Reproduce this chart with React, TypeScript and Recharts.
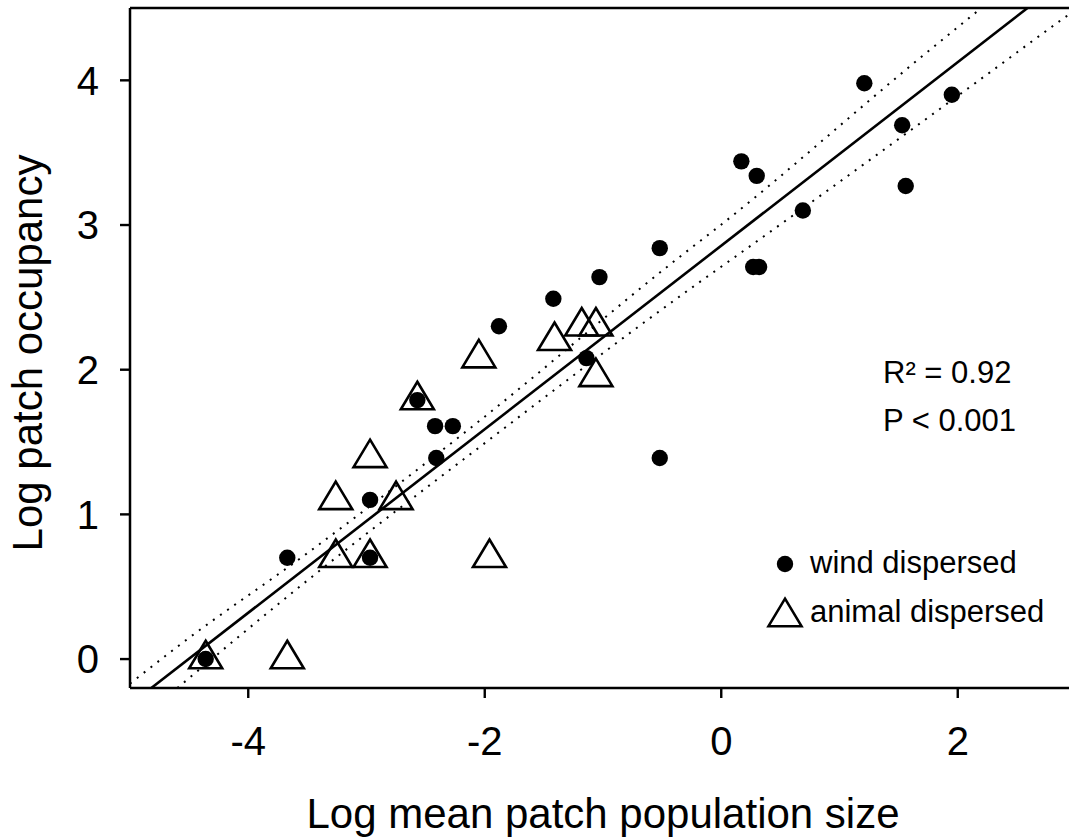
import React from 'react';
import { ScatterChart, Scatter, XAxis, YAxis, ReferenceLine } from 'recharts';

const FONT = '"Liberation Sans", Arial, Helvetica, sans-serif';

// Wind dispersed species (filled circles)
const windX = [-4.36, -3.67, -2.97, -2.97, -2.57, -2.42, -2.27, -2.41, -1.88, -1.42, -1.14, -1.03, -0.52, -0.52, 0.17, 0.30, 0.27, 0.32, 0.69, 1.21, 1.53, 1.56, 1.95];
const windY = [0.00, 0.70, 0.70, 1.10, 1.79, 1.61, 1.61, 1.39, 2.30, 2.49, 2.08, 2.64, 2.84, 1.39, 3.44, 3.34, 2.71, 2.71, 3.10, 3.98, 3.69, 3.27, 3.90];

// Animal dispersed species (open triangles)
const animalX = [-4.36, -3.67, -3.26, -2.97, -1.96, -3.26, -2.75, -2.97, -2.57, -2.05, -1.41, -1.18, -1.06, -1.06];
const animalY = [0.00, 0.00, 0.70, 0.70, 0.70, 1.10, 1.10, 1.39, 1.79, 2.08, 2.20, 2.30, 2.30, 1.95];

// Regression line and confidence band
const fitX = [-4.82, 2.59];
const fitY = [-0.2, 4.5];
const upperX = [-5.0, -4.56, -3.52, -2.07, -0.32, -0.02, 1.66, 2.2];
const upperY = [-0.17, 0.11, 0.72, 1.63, 2.80, 2.99, 4.14, 4.5];
const lowerX = [-4.6, -3.49, -2.10, -0.21, 0.10, 2.28, 2.88, 3.0];
const lowerY = [-0.2, 0.55, 1.43, 2.59, 2.77, 4.06, 4.42, 4.49];

const xTicks = [-4, -2, 0, 2];
const yTicks = [0, 1, 2, 3, 4];
const xDomain = [-5, 3];
const yDomain = [-0.2, 4.5];

const xTitle = 'Log mean patch population size';
const yTitle = 'Log patch occupancy';
const statLines = ['R² = 0.92', 'P < 0.001'];
const legendNames = ['wind dispersed', 'animal dispersed'];

const zip = (xs: number[], ys: number[]) => xs.map((x, i) => ({ x, y: ys[i] }));

const windData = zip(windX, windY);
const animalData = zip(animalX, animalY);
const fitData = zip(fitX, fitY);
const upperData = zip(upperX, upperY);
const lowerData = zip(lowerX, lowerY);

const triPath = (cx: number, cy: number) =>
  `M${cx},${cy - 18.3} L${cx + 16.5},${cy + 9.2} L${cx - 16.5},${cy + 9.2} Z`;

const Circle = (p: any) => <circle cx={p.cx} cy={p.cy} r={8.2} fill="#000" />;
const Tri = (p: any) => (
  <path d={triPath(p.cx, p.cy)} fill="none" stroke="#000" strokeWidth={2.6} strokeLinejoin="miter" />
);
const NoShape = () => <g />;

export default function App() {
  return (
    <div style={{ position: 'absolute', left: 0, top: 0, width: 1069, height: 837, overflow: 'hidden', background: '#fff' }}>
      <ScatterChart width={1100} height={837} margin={{ top: 8, right: 24, bottom: 20, left: 20 }}>
        <XAxis
          type="number"
          dataKey="x"
          domain={xDomain}
          ticks={xTicks}
          allowDataOverflow
          height={129}
          tickSize={10}
          tickMargin={29}
          axisLine={{ stroke: '#000', strokeWidth: 2.5 }}
          tickLine={{ stroke: '#000', strokeWidth: 2.4 }}
          tick={{ fontSize: 40, fill: '#000', fontFamily: FONT }}
          tickFormatter={(v: number) => (v < 0 ? `-${Math.abs(v)}` : `${v}`)}
        />
        <YAxis
          type="number"
          dataKey="y"
          domain={yDomain}
          ticks={yTicks}
          allowDataOverflow
          width={110}
          tickSize={10}
          tickMargin={21}
          axisLine={{ stroke: '#000', strokeWidth: 2.5 }}
          tickLine={{ stroke: '#000', strokeWidth: 2.4 }}
          tick={{ fontSize: 40, fill: '#000', fontFamily: FONT }}
        />
        <ReferenceLine y={yDomain[1]} stroke="#000" strokeWidth={2.7} ifOverflow="visible" />
        <ReferenceLine x={xDomain[1]} stroke="#000" strokeWidth={2.5} ifOverflow="visible" />
        <Scatter data={upperData} shape={NoShape} line={{ stroke: '#000', strokeWidth: 2, strokeDasharray: '2 6.7' }} lineType="joint" lineJointType="monotoneX" isAnimationActive={false} legendType="none" />
        <Scatter data={lowerData} shape={NoShape} line={{ stroke: '#000', strokeWidth: 2, strokeDasharray: '2 6.7' }} lineType="joint" lineJointType="monotoneX" isAnimationActive={false} legendType="none" />
        <Scatter data={fitData} shape={NoShape} line={{ stroke: '#000', strokeWidth: 2.6 }} lineType="joint" isAnimationActive={false} legendType="none" />
        <Scatter data={windData} shape={Circle} isAnimationActive={false} />
        <Scatter data={animalData} shape={Tri} isAnimationActive={false} />
      </ScatterChart>
      <svg width={1069} height={837} style={{ position: 'absolute', left: 0, top: 0, pointerEvents: 'none' }}>
        <g fontFamily={FONT} fill="#000">
          <text x={603} y={828} fontSize={42} textAnchor="middle">{xTitle}</text>
          <text x={42} y={353} fontSize={42} textAnchor="middle" transform="rotate(-90 42 353)">{yTitle}</text>
          <text x={883} y={383} fontSize={31}>{statLines[0]}</text>
          <text x={883} y={431} fontSize={31}>{statLines[1]}</text>
          <circle cx={785} cy={564} r={8.2} fill="#000" />
          <text x={810} y={573} fontSize={31}>{legendNames[0]}</text>
          <path d={triPath(785, 617)} fill="none" stroke="#000" strokeWidth={2.6} />
          <text x={810} y={622} fontSize={31}>{legendNames[1]}</text>
        </g>
      </svg>
    </div>
  );
}
